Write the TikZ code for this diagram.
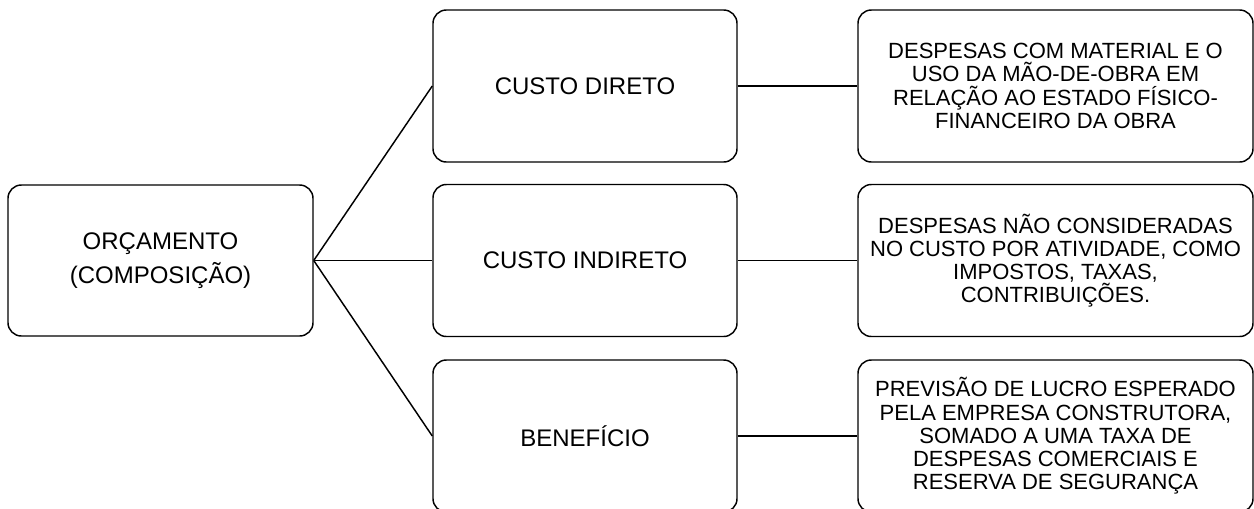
\documentclass[tikz,border=0pt]{standalone}
\usepackage{fontspec}
\setmainfont{Liberation Sans}
\begin{document}
\begin{tikzpicture}[x=0.75pt, y=-0.75pt,
  box/.style={draw=black, line width=1.1pt, rounded corners=10pt, align=center, inner sep=0pt},
  rootbox/.style={box, minimum width=228.75pt, minimum height=113.25pt, font=\fontsize{18pt}{26pt}\selectfont},
  midbox/.style={box, minimum width=228pt, minimum height=114pt, font=\fontsize{18pt}{22pt}\selectfont},
  descbox/.style={box, minimum width=296.25pt, minimum height=114pt, font=\fontsize{16.5pt}{17.4pt}\selectfont},
  link/.style={draw=black, line width=1.1pt}]
\useasboundingbox (0,0) rectangle (1254,508);

\node[rootbox] (orc) at (160.5,260.5) {ORÇAMENTO\\(COMPOSIÇÃO)};

\node[midbox] (dir) at (585,86) {CUSTO DIRETO};
\node[midbox] (ind) at (585,260.5) {CUSTO INDIRETO};
\node[midbox] (ben) at (585,436) {BENEFÍCIO};

\node[descbox] (ddir) at (1055.5,86) {DESPESAS COM MATERIAL E O\\USO DA MÃO-DE-OBRA EM\\RELAÇÃO AO ESTADO FÍSICO-\\FINANCEIRO DA OBRA};
\node[descbox] (dind) at (1055.5,260.5) {DESPESAS NÃO CONSIDERADAS\\NO CUSTO POR ATIVIDADE, COMO\\IMPOSTOS, TAXAS,\\CONTRIBUIÇÕES.};
\node[descbox] (dben) at (1055.5,436) {PREVISÃO DE LUCRO ESPERADO\\PELA EMPRESA CONSTRUTORA,\\SOMADO A UMA TAXA DE\\DESPESAS COMERCIAIS E\\RESERVA DE SEGURANÇA};

\draw[link] (orc.east) -- (dir.west);
\draw[link] (orc.east) -- (ind.west);
\draw[link] (orc.east) -- (ben.west);
\draw[link] (dir.east) -- (ddir.west);
\draw[link] (ind.east) -- (dind.west);
\draw[link] (ben.east) -- (dben.west);
\end{tikzpicture}
\end{document}
